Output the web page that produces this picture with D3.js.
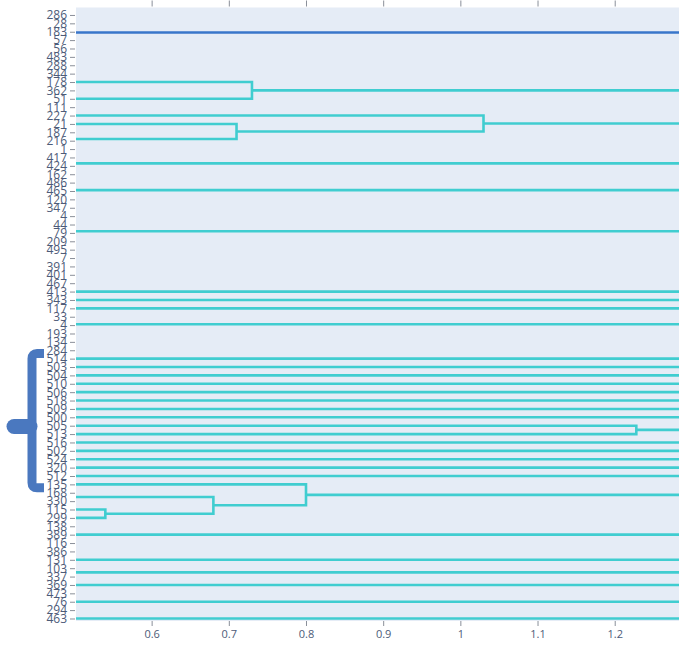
<!DOCTYPE html>
<html>
<head>
<meta charset="utf-8">
<script src="https://cdn.jsdelivr.net/npm/d3@7"></script>
<style>
  html, body { margin: 0; padding: 0; background: #ffffff; }
  svg { display: block; }
</style>
</head>
<body>
<svg id="chart" width="679" height="646"></svg>
<script>
// Leaf labels, top to bottom (leaf position = array index)
const leafLabels = [
  "286","28","183","57","56","483","288","344","178","362",
  "51","111","227","21","187","216","1","417","424","162",
  "486","465","120","347","4","44","79","209","495","7",
  "391","401","467","413","343","117","33","4","193","134",
  "284","514","503","504","510","506","518","509","500","505",
  "513","516","502","524","320","512","135","168","330","115",
  "299","138","389","116","386","131","103","337","369","473",
  "76","294","463"
];

// Distance ticks
const xTicks = [0.6, 0.7, 0.8, 0.9, 1, 1.1, 1.2];

// U-shaped merges inside the view: leaf positions of both children,
// the height each child starts from and the height where they join.
const mergeUpperPos  = [8,    12,   13,   49,    59,   57.5, 56];
const mergeLowerPos  = [10,   13.9, 14.8, 50,    60,   59.5, 58.5];
const mergeUpperFrom = [0,    0,    0,    0,     0,    0,    0];
const mergeLowerFrom = [0,    0.71, 0,    0,     0,    0.54, 0.68];
const mergeHeight    = [0.73, 1.03, 0.71, 1.228, 0.54, 0.68, 0.80];

// Branches that run on past the right edge: leaf position, start height, cluster
const branchPos = [
  2.1, 9, 12.95, 17.7, 20.9, 25.8, 33, 34, 35, 36.9,
  41, 42, 43, 44, 45, 46, 47, 48, 49.5, 51,
  52, 53, 54, 55, 57.25, 62, 65, 66.5, 68, 70, 72
];
const branchFrom = [
  0, 0.73, 1.03, 0, 0, 0, 0, 0, 0, 0,
  0, 0, 0, 0, 0, 0, 0, 0, 1.228, 0,
  0, 0, 0, 0, 0.80, 0, 0, 0, 0, 0, 0
];
const branchCluster = [
  0, 1, 1, 1, 1, 1, 1, 1, 1, 1,
  1, 1, 1, 1, 1, 1, 1, 1, 1, 1,
  1, 1, 1, 1, 1, 1, 1, 1, 1, 1, 1
];

const plot = { left: 76, right: 679, top: 7.5, bottom: 621 };
const clusterColors = ["rgb(56,118,202)", "rgb(64,205,208)"];
const textColor = "#4d5b78";
const tickColor = "#8a8f99";

const svg = d3.select("#chart");

const x = d3.scaleLinear().domain([0.502, 1.2833]).range([plot.left, plot.right]);
const y = d3.scaleLinear().domain([-0.89, 72.3]).range([plot.top, plot.bottom]);

// plot background
svg.append("rect")
  .attr("x", plot.left).attr("y", plot.top)
  .attr("width", plot.right - plot.left + 20)
  .attr("height", plot.bottom - plot.top)
  .attr("fill", "#e5ecf6");

svg.append("defs").append("clipPath").attr("id", "plot-clip")
  .append("rect")
  .attr("x", plot.left).attr("y", plot.top - 3)
  .attr("width", plot.right - plot.left + 20)
  .attr("height", plot.bottom - plot.top + 6);

const line = d3.line().x(d => x(d[0])).y(d => y(d[1]));
const links = svg.append("g").attr("clip-path", "url(#plot-clip)")
  .attr("fill", "none").attr("stroke-width", 2.6).attr("stroke-linejoin", "miter");

// long branches
const xEnd = x.domain()[1] + 0.1;
links.selectAll("path.branch")
  .data(branchPos.map((p, i) => ({ p, from: branchFrom[i], c: branchCluster[i] })))
  .join("path")
  .attr("class", "branch")
  .attr("stroke", d => clusterColors[d.c])
  .attr("d", d => line([[d.from, d.p], [xEnd, d.p]]));

// U-links
links.selectAll("path.merge")
  .data(mergeHeight.map((h, i) => ({
    h, y0: mergeUpperPos[i], y1: mergeLowerPos[i],
    f0: mergeUpperFrom[i], f1: mergeLowerFrom[i]
  })))
  .join("path")
  .attr("class", "merge")
  .attr("stroke", clusterColors[1])
  .attr("d", d => line([[d.f0, d.y0], [d.h, d.y0], [d.h, d.y1], [d.f1, d.y1]]));

// left axis with leaf labels
const yAxis = svg.append("g")
  .attr("transform", `translate(${plot.left - 1},0)`)
  .call(d3.axisLeft(y)
    .tickValues(d3.range(leafLabels.length))
    .tickFormat(i => leafLabels[i])
    .tickSize(5).tickPadding(3));
yAxis.select(".domain").remove();
yAxis.selectAll("line").attr("stroke", tickColor);
yAxis.selectAll("text")
  .attr("fill", textColor)
  .style("font-family", "'Open Sans', sans-serif")
  .style("font-size", "12px");

// bottom axis
const xAxis = svg.append("g")
  .attr("transform", `translate(0,${plot.bottom})`)
  .call(d3.axisBottom(x).tickValues(xTicks).tickFormat(d3.format("")).tickSize(5).tickPadding(4));
xAxis.select(".domain").remove();
xAxis.selectAll("line").attr("stroke", tickColor);
xAxis.selectAll("text")
  .attr("fill", textColor)
  .style("font-family", "'Open Sans', sans-serif")
  .style("font-size", "11px");

// top axis (labels above the visible frame)
const xTop = svg.append("g")
  .attr("transform", `translate(0,${plot.top - 1})`)
  .call(d3.axisTop(x).tickValues(xTicks).tickFormat("").tickSize(6));
xTop.select(".domain").remove();
xTop.selectAll("line").attr("stroke", tickColor);

// brace marking the group of leaves
const brace = svg.append("g").attr("fill", "none").attr("stroke", "#4a78bf");
const braceTop = y(40.4), braceBot = y(56.4), braceMid = y(49.1);
brace.append("path")
  .attr("stroke-width", 9)
  .attr("d", `M44,${braceTop} H37 Q32,${braceTop} 32,${braceTop + 5} V${braceBot - 5} Q32,${braceBot} 37,${braceBot} H44`);
brace.append("line")
  .attr("stroke-width", 15).attr("stroke-linecap", "round")
  .attr("x1", 30).attr("x2", 14)
  .attr("y1", braceMid).attr("y2", braceMid);
</script>
</body>
</html>
